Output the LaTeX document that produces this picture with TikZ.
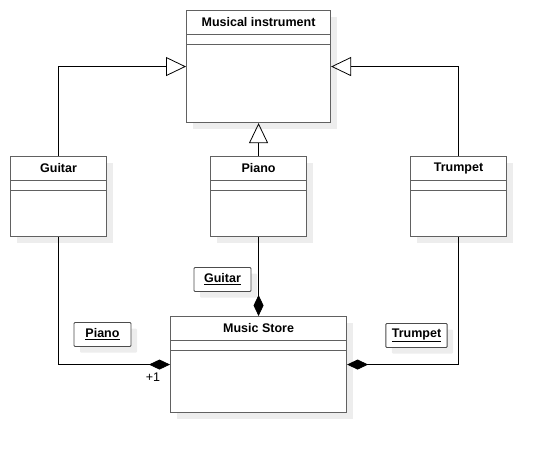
\documentclass[tikz,border=0pt]{standalone}
\usepackage{fontspec}
\setmainfont{Liberation Sans}
\usetikzlibrary{arrows.meta,shadows}

\tikzset{
  sombra/.style={drop shadow={shadow xshift=6pt, shadow yshift=-6pt, fill=black!7, opacity=1}},
  clase/.style={draw=black!62, line width=1.1pt, fill=white, anchor=north west,
    inner sep=0pt, minimum width=96, minimum height=80, sombra},
  division/.style={draw=black!62, line width=1.1pt},
  titulo/.style={font=\fontsize{12.5}{15}\selectfont\bfseries},
  rol/.style={draw=black!70, line width=0.9pt, fill=white, rounded corners=1pt,
    minimum height=24, minimum width=57, inner xsep=6pt,
    font=\fontsize{12.5}{15}\selectfont\bfseries, sombra},
  herencia/.style={-{Triangle[open,length=20pt,width=19pt]}, line width=0.8pt},
  composicion/.style={-{Diamond[length=21pt,width=10pt]}, line width=0.8pt},
}

\begin{document}
\begin{tikzpicture}[x=1pt, y=-1pt, font=\fontsize{12.5}{15}\selectfont]

    \useasboundingbox (0, 0) rectangle (546, 452);

    % Clases
    \node[clase, minimum width=144, minimum height=112] (instr) at (186, 10) {};
    \node[clase] (guitar) at (10, 156) {};
    \node[clase] (piano) at (210, 156) {};
    \node[clase] (trumpet) at (410, 156) {};
    \node[clase, minimum width=176, minimum height=96] (store) at (170, 316) {};

    % Compartimentos
    \foreach \c in {instr, guitar, piano, trumpet, store} {
      \draw[division] ([yshift=-24.5pt]\c.north west) -- ([yshift=-24.5pt]\c.north east);
      \draw[division] ([yshift=-34.5pt]\c.north west) -- ([yshift=-34.5pt]\c.north east);
    }

    % Nombres
    \node[titulo] (instrT) at ([yshift=-12pt]instr.north) {Musical instrument};
    \node[titulo] (guitarT) at ([yshift=-12pt]guitar.north) {Guitar};
    \node[titulo] (pianoT) at ([yshift=-12pt]piano.north) {Piano};
    \node[titulo] (trumpetT) at ([yshift=-12pt]trumpet.north) {Trumpet};
    \node[titulo] (storeT) at ([yshift=-12pt]store.north) {Music Store};

    % Herencia
    \draw[herencia] (guitar.north) |- (instr.west);
    \draw[herencia] (piano.north) -- (instr.south);
    \draw[herencia] (trumpet.north) |- (instr.east);

    % Composicion
    \draw[composicion] (guitar.south) |- (store.west);
    \draw[composicion] (piano.south) -- (store.north);
    \draw[composicion] (trumpet.south) |- (store.east);

    % Roles
    \node[rol] (rolGuitar) at (222.5, 279.5) {\underline{Guitar}};
    \node[rol] (rolPiano) at (102.5, 334.5) {\underline{Piano}};
    \node[rol] (rolTrumpet) at (416.5, 335.5) {\underline{Trumpet}};
    \node (mult) at ([xshift=-17pt, yshift=-13pt]store.west) {+1};

  \end{tikzpicture}
\end{document}
